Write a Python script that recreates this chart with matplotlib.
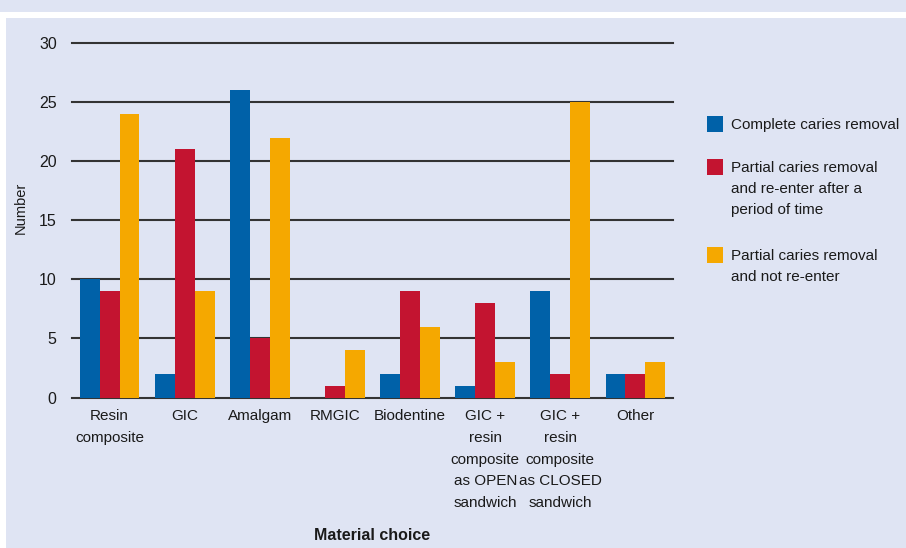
import numpy as np
import matplotlib
matplotlib.use("Agg")
import matplotlib.pyplot as plt
from matplotlib.patches import Rectangle

# Données
categories = ["Resin\ncomposite", "GIC", "Amalgam", "RMGIC", "Biodentine",
              "GIC +\nresin\ncomposite\nas OPEN\nsandwich",
              "GIC +\nresin\ncomposite\nas CLOSED\nsandwich", "Other"]
complete = [10, 2, 26, 0, 2, 1, 9, 2]
partial_reenter = [9, 21, 5, 1, 9, 8, 2, 2]
partial_not = [24, 9, 22, 4, 6, 3, 25, 3]
series_names = ["Complete caries removal",
                "Partial caries removal\nand re-enter after a\nperiod of time",
                "Partial caries removal\nand not re-enter"]
colors = ["#0061a8", "#c31430", "#f5a800"]
bg = "#dfe4f3"
txt = "#1a1a1a"

plt.rcParams["font.family"] = ["Liberation Sans", "DejaVu Sans"]
plt.rcParams["font.size"] = 11.5

W, H = 906, 548
fig = plt.figure(figsize=(W / 100, H / 100), dpi=100)
fig.patch.set_facecolor(bg)

# bandes blanches (recadrage de la figure d'origine)
fig.add_artist(Rectangle((0, 1 - 18 / H), 1, 6 / H, transform=fig.transFigure,
                         facecolor="white", edgecolor="none"))
fig.add_artist(Rectangle((0, 0), 6 / W, 1 - 12 / H, transform=fig.transFigure,
                         facecolor="white", edgecolor="none"))

left, right = 72 / W, 673 / W
bottom, top = 1 - 397.5 / H, 1 - 43 / H
ax = fig.add_axes([left, bottom, right - left, top - bottom])
ax.set_facecolor(bg)

x = np.arange(len(categories))
w = 0.265
for i, vals in enumerate([complete, partial_reenter, partial_not]):
    ax.bar(x + (i - 1) * w, vals, width=w, color=colors[i], zorder=3)

ax.set_xlim(-0.5, len(categories) - 0.5)
ax.set_ylim(0, 30)
ax.set_yticks(range(0, 31, 5))
for y in range(0, 31, 5):
    ax.axhline(y, color="#333333", lw=1.5, zorder=2, clip_on=False)
for s in ax.spines.values():
    s.set_visible(False)
ax.tick_params(axis="y", length=0, pad=11, labelcolor=txt)
ax.tick_params(axis="x", length=0, pad=8.5, labelcolor=txt, labelsize=11)
ax.set_xticks(x)
ax.set_xticklabels(categories, linespacing=1.7, va="top")

ax.set_ylabel("Number", color=txt, fontsize=10.5)
ax.yaxis.set_label_coords(-44 / 601, 0.535)
fig.text((left + right) / 2, 1 - 535 / H, "Material choice", ha="center", va="center",
         fontweight="bold", fontsize=11.5, color=txt)

# légende dessinée à la main (carré aligné sur la première ligne)
leg_y = [124, 167, 255]
for name, c, yy in zip(series_names, colors, leg_y):
    fig.add_artist(Rectangle((707 / W, 1 - (yy + 8) / H), 16 / W, 16 / H,
                             transform=fig.transFigure, facecolor=c, edgecolor="none"))
    fig.text(731 / W, 1 - (yy - 6) / H, name, ha="left", va="top", fontsize=11,
             color=txt, linespacing=1.62)

fig.savefig("out.png", dpi=100, facecolor=fig.get_facecolor())
